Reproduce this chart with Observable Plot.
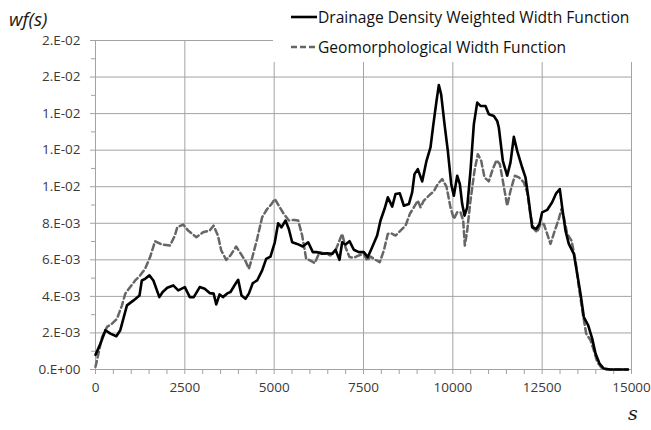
<!DOCTYPE html>
<html>
<head>
<meta charset="utf-8">
<script src="https://cdn.jsdelivr.net/npm/d3@7"></script>
<script src="https://cdn.jsdelivr.net/npm/@observablehq/plot@0.6"></script>
<style>
  html, body { margin: 0; padding: 0; background: #fff; }
  #wrap { position: relative; width: 651px; height: 430px; overflow: hidden; font-family: "Open Sans", sans-serif; }
  #chart { position: absolute; left: 0; top: 0; }
  .ov { position: absolute; white-space: nowrap; line-height: 20px; }
  #legend { position: absolute; left: 273px; top: 0; width: 378px; height: 62px; background: #fff; }
</style>
</head>
<body>
<div id="wrap">
  <div id="chart"></div>
  <div id="legend">
    <svg width="378" height="62" style="position:absolute;left:0;top:0">
      <line x1="18" y1="17" x2="44" y2="17" stroke="#000" stroke-width="2.6"/>
      <line x1="18" y1="47" x2="44" y2="47" stroke="#666" stroke-width="2.5" stroke-dasharray="6,3"/>
    </svg>
    <div class="ov" style="left:45px;top:7px;font-size:15.6px;color:#111">Drainage Density Weighted Width Function</div>
    <div class="ov" style="left:45px;top:37px;font-size:15.6px;color:#111">Geomorphological Width Function</div>
  </div>
  <div class="ov" style="left:9px;top:9px;font-size:19px;font-style:italic;color:#1a1a1a">wf(s)</div>
  <div class="ov" style="left:628px;top:403px;font-size:19px;font-style:italic;font-family:'DejaVu Serif',serif;color:#1a1a1a">s</div>
</div>
<script>
// Drainage Density Weighted Width Function (solid)
const s_dd = [0,139,278,417,583,694,880,1065,1231,1296,1389,1509,1620,1787,1880,2009,2176,2315,2500,2639,2750,2917,3056,3195,3306,3380,3473,3565,3704,3778,3918,3993,4086,4198,4291,4403,4524,4664,4776,4897,5018,5111,5205,5317,5410,5504,5644,5802,5952,6082,6203,6343,6483,6623,6716,6828,6903,6996,7108,7229,7369,7509,7620,7742,7882,7976,8088,8181,8303,8396,8517,8629,8769,8862,8927,9020,9142,9263,9375,9450,9543,9608,9673,9767,9860,9954,10028,10122,10196,10262,10327,10402,10494,10588,10682,10774,10914,11007,11147,11241,11287,11399,11521,11614,11707,11801,11941,12033,12126,12220,12332,12425,12500,12640,12780,12892,12994,13060,13153,13246,13386,13480,13573,13666,13788,13900,13993,14104,14225,14400,14900];
const wf_dd = [0.0008,0.00142,0.00215,0.00196,0.00182,0.00215,0.00351,0.00378,0.00405,0.00487,0.00496,0.00515,0.00487,0.00396,0.00424,0.00447,0.0046,0.00433,0.00451,0.00396,0.00396,0.00451,0.00442,0.00418,0.00415,0.00356,0.00411,0.00396,0.00418,0.00424,0.00469,0.00491,0.00405,0.00387,0.00415,0.00473,0.00487,0.00542,0.00605,0.00618,0.00696,0.0080,0.00778,0.00815,0.00769,0.00696,0.00687,0.00673,0.00696,0.00642,0.00642,0.00633,0.00636,0.00633,0.00655,0.006,0.00696,0.00684,0.00702,0.00655,0.00642,0.00642,0.00615,0.00669,0.00733,0.00815,0.00878,0.00942,0.00891,0.0096,0.00964,0.00896,0.00905,0.00969,0.01069,0.01096,0.01029,0.01142,0.01215,0.01333,0.01469,0.01556,0.01505,0.01342,0.01196,0.01015,0.00951,0.0106,0.01015,0.00905,0.00842,0.00887,0.01087,0.01342,0.0146,0.01442,0.01442,0.01396,0.01387,0.0136,0.01324,0.01142,0.0106,0.01133,0.01273,0.01196,0.01105,0.01051,0.00924,0.00778,0.00769,0.00796,0.0086,0.00873,0.00915,0.00964,0.00987,0.00887,0.0076,0.00687,0.00633,0.00524,0.00415,0.00287,0.00242,0.00169,0.00087,0.00033,0.00005,0,0];

// Geomorphological Width Function (dashed)
const s_geo = [0,93,185,324,463,602,741,833,972,1111,1250,1389,1528,1667,1852,2084,2222,2287,2454,2593,2824,3010,3195,3306,3426,3519,3658,3778,3937,4058,4198,4291,4384,4524,4664,4804,4925,5018,5130,5270,5410,5550,5672,5784,5896,6017,6138,6269,6437,6576,6716,6810,6903,6996,7108,7229,7369,7509,7602,7695,7836,7956,8069,8181,8275,8396,8535,8676,8796,8908,9020,9095,9188,9328,9468,9580,9702,9823,9935,10028,10122,10215,10290,10336,10402,10494,10606,10699,10794,10886,11007,11101,11222,11315,11399,11521,11614,11735,11847,11987,12081,12173,12266,12360,12453,12546,12640,12733,12854,12966,13041,13106,13200,13321,13433,13526,13638,13732,13853,13946,14039,14160,14300,14900];
const wf_geo = [0.00015,0.00096,0.00178,0.00233,0.00251,0.00278,0.00351,0.00415,0.00451,0.00487,0.00515,0.00551,0.00615,0.00702,0.00684,0.00678,0.00733,0.00778,0.00793,0.0076,0.00724,0.00751,0.0076,0.00787,0.00733,0.00651,0.006,0.00624,0.00673,0.00636,0.00593,0.00551,0.00611,0.00715,0.00833,0.00878,0.00905,0.00933,0.00896,0.00851,0.00815,0.00818,0.00815,0.00733,0.00605,0.00596,0.00582,0.00642,0.00633,0.00624,0.00651,0.00696,0.00742,0.00669,0.00615,0.00611,0.00624,0.00633,0.00596,0.00618,0.006,0.00587,0.00651,0.00742,0.00745,0.00733,0.0076,0.00787,0.00851,0.00887,0.00924,0.00887,0.00924,0.00951,0.00975,0.01015,0.01042,0.01,0.00887,0.00824,0.0086,0.0086,0.00815,0.00678,0.0076,0.00924,0.01087,0.01178,0.01142,0.01051,0.01029,0.01087,0.01145,0.01124,0.01033,0.00896,0.00978,0.0106,0.01051,0.01024,0.00969,0.00842,0.00769,0.00751,0.00796,0.00796,0.00742,0.00687,0.0076,0.00824,0.00878,0.00833,0.00742,0.00705,0.00596,0.00451,0.00305,0.00196,0.0016,0.00105,0.00042,0.0001,0,0];

const yTicks = [0,0.002,0.004,0.006,0.008,0.010,0.012,0.014,0.016,0.018];
const yTickLabels = ["0.E+00","2.E-03","4.E-03","6.E-03","8.E-03","1.E-02","1.E-02","1.E-02","2.E-02","2.E-02"];
const yMinor = [0.001,0.003,0.005,0.007,0.009,0.011,0.013,0.015,0.017];
const xTicks = [0,2500,5000,7500,10000,12500,15000];
const xMinor = [500,1000,1500,2000,3000,3500,4000,4500,5500,6000,6500,7000,8000,8500,9000,9500,10500,11000,11500,12000,13000,13500,14000,14500];

const dd = s_dd.map((s, i) => ({s, wf: wf_dd[i]}));
const geo = s_geo.map((s, i) => ({s, wf: wf_geo[i]}));

const gridC = "#a3a3a3";
const textC = "#3a3a3a";

const chart = Plot.plot({
  width: 651,
  height: 430,
  marginLeft: 95,
  marginRight: 20,
  marginTop: 40,
  marginBottom: 61,
  style: {fontFamily: "'Open Sans', sans-serif", fontSize: "13.5px", background: "transparent"},
  x: {domain: [0, 15000]},
  y: {domain: [0, 0.018]},
  marks: [
    Plot.gridX(xTicks, {stroke: gridC, strokeOpacity: 1, strokeWidth: 1}),
    Plot.gridY(yTicks, {stroke: gridC, strokeOpacity: 1, strokeWidth: 1}),
    Plot.ruleX([0], {stroke: gridC, strokeWidth: 1}),
    Plot.ruleY([0], {stroke: gridC, strokeWidth: 1}),
    Plot.axisY(yTicks, {tickSize: 5, stroke: gridC, fill: textC, tickPadding: 10, tickFormat: (d) => yTickLabels[yTicks.indexOf(d)], label: null}),
    Plot.axisY(yMinor, {tickSize: 4, stroke: gridC, tickFormat: () => "", label: null}),
    Plot.axisX(xTicks, {tickSize: 5, stroke: gridC, fill: textC, tickPadding: 8, tickFormat: (d) => String(d), label: null}),
    Plot.axisX(xMinor, {tickSize: 5, stroke: gridC, tickFormat: () => "", label: null}),
    Plot.line(geo, {x: "s", y: "wf", stroke: "#666", strokeWidth: 2.5, strokeDasharray: "6,3.5"}),
    Plot.line(dd, {x: "s", y: "wf", stroke: "#000", strokeWidth: 2.6})
  ]
});
document.getElementById("chart").appendChild(chart);
</script>
</body>
</html>
